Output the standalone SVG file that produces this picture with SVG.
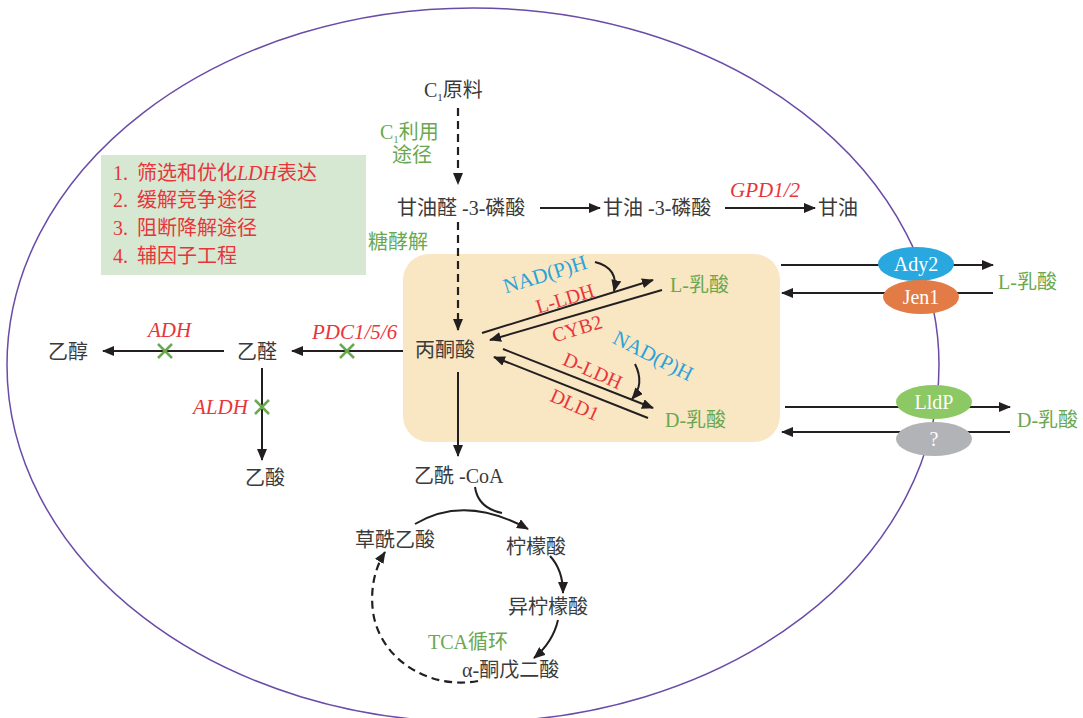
<svg xmlns="http://www.w3.org/2000/svg" width="1083" height="718" viewBox="0 0 1083 718">
<style>
text{font-family:"Liberation Serif","Noto Sans CJK SC",serif;font-size:20px;fill:#3a3a3a}
.g{fill:#6aa84f}
.r{fill:#e8353a;font-style:italic;font-size:21px}
.rn{fill:#e8353a;font-size:20px}
.b{fill:#2aa3d8;font-size:21px}
.lg{fill:#e8353a;font-size:20px}
.w{fill:#fff;font-size:20px}
.ln{stroke:#231f20;stroke-width:2;fill:none}
.ds{stroke:#231f20;stroke-width:2.2;fill:none;stroke-dasharray:8 5}
.x{stroke:#6ca851;stroke-width:2.5}
</style>
<defs>
<marker id="ah" markerWidth="12" markerHeight="10" refX="11" refY="5" orient="auto" markerUnits="userSpaceOnUse">
<path d="M0,0 L12,5 L0,10 z" fill="#231f20"/>
</marker>
</defs>
<g id="cell"><ellipse cx="473" cy="365" rx="466" ry="357" fill="none" stroke="#6a4ba8" stroke-width="1.5"/></g>
<g id="legend">
<rect x="101" y="155" width="265" height="120" fill="#d6e8d1"/>
<text class="lg" x="113" y="180">1. <tspan x="137">筛选和优化</tspan><tspan font-style="italic">LDH</tspan>表达</text>
<text class="lg" x="113" y="207">2. <tspan x="137">缓解竞争途径</tspan></text>
<text class="lg" x="113" y="235">3. <tspan x="137">阻断降解途径</tspan></text>
<text class="lg" x="113" y="263">4. <tspan x="137">辅因子工程</tspan></text>
</g>
<g id="box"><rect x="403" y="254" width="377" height="188" rx="26" fill="#f9e6c3"/></g>
<g id="c1"><text x="424" y="97">C<tspan font-size="11" dy="4">1</tspan><tspan dy="-4">原料</tspan></text></g>
<g id="c1path"><text class="g" x="380" y="139">C<tspan font-size="11" dy="4">1</tspan><tspan dy="-4">利用</tspan></text><text class="g" x="392" y="162">途径</text></g>
<g id="g3p"><text x="397" y="215">甘油醛 -3-磷酸</text></g>
<g id="gly3p"><text x="603" y="215">甘油 -3-磷酸</text></g>
<g id="glycerol"><text x="818" y="215">甘油</text></g>
<g id="glycolysis"><text class="g" x="368" y="249">糖酵解</text></g>
<g id="pyruvate"><text x="415" y="357">丙酮酸</text></g>
<g id="llac"><text class="g" x="670" y="292">L-乳酸</text></g>
<g id="dlac"><text class="g" x="665" y="427">D-乳酸</text></g>
<g id="ethanol"><text x="48" y="359">乙醇</text></g>
<g id="acetaldehyde"><text x="237" y="359">乙醛</text></g>
<g id="acetate"><text x="245" y="485">乙酸</text></g>
<g id="acetylcoa"><text x="414" y="483">乙酰 -CoA</text></g>
<g id="oaa"><text x="355" y="547">草酰乙酸</text></g>
<g id="citrate"><text x="506" y="554">柠檬酸</text></g>
<g id="isocitrate"><text x="508" y="614">异柠檬酸</text></g>
<g id="akg"><text x="462" y="677">α-酮戊二酸</text></g>
<g id="tca"><text class="g" x="428" y="649">TCA循环</text></g>
<g id="llac-out"><text class="g" x="998" y="289">L-乳酸</text></g>
<g id="dlac-out"><text class="g" x="1017" y="427">D-乳酸</text></g>
<g id="labels">
<text class="r" x="730" y="197">GPD1/2</text>
<text class="r" x="148" y="337">ADH</text>
<text class="r" x="312" y="339">PDC1/5/6</text>
<text class="r" x="193" y="414">ALDH</text>
<text class="b" transform="translate(547,281) rotate(-17)" text-anchor="middle">NAD(P)H</text>
<text class="rn" transform="translate(567,305) rotate(-17)" text-anchor="middle">L-LDH</text>
<text class="rn" transform="translate(579,335) rotate(-17)" text-anchor="middle">CYB2</text>
<text class="b" transform="translate(650,362) rotate(27)" text-anchor="middle">NAD(P)H</text>
<text class="rn" transform="translate(590,377) rotate(24)" text-anchor="middle">D-LDH</text>
<text class="rn" transform="translate(572,411) rotate(24)" text-anchor="middle">DLD1</text>
</g>
<g id="connectors">
<path class="ds" d="M458,108 V184" marker-end="url(#ah)"/>
<path class="ds" d="M458,222 V330" marker-end="url(#ah)"/>
<path class="ln" d="M540,208 H600" marker-end="url(#ah)"/>
<path class="ln" d="M725,208 H815" marker-end="url(#ah)"/>
<path class="ln" d="M482,333 L653,280" marker-end="url(#ah)"/>
<path class="ln" d="M662,290 L490,340" marker-end="url(#ah)"/>
<path class="ln" d="M503,349 L653,408" marker-end="url(#ah)"/>
<path class="ln" d="M648,418 L494,357" marker-end="url(#ah)"/>
<path class="ln" d="M595,262 Q619,268 614,291" marker-end="url(#ah)"/>
<path class="ln" d="M635,364 Q645,384 632,399" marker-end="url(#ah)"/>
<path class="ln" d="M403,351 H292" marker-end="url(#ah)"/>
<path class="ln" d="M224,351 H103" marker-end="url(#ah)"/>
<path class="ln" d="M262,368 V460" marker-end="url(#ah)"/>
<path class="ln" d="M458,372 V456" marker-end="url(#ah)"/>
<path class="ln" d="M415,524 Q465,494 528,529" marker-end="url(#ah)"/>
<path class="ln" d="M475,487 Q478,508 502,513"/>
<path class="ln" d="M550,556 Q563,570 563,593" marker-end="url(#ah)"/>
<path class="ln" d="M558,620 Q553,642 534,658" marker-end="url(#ah)"/>
<path class="ds" d="M478,681 C430,690 380,660 373,612 C370,588 375,568 385,552" marker-end="url(#ah)"/>
<path class="ln" d="M781,265 H993" marker-end="url(#ah)"/>
<path class="ln" d="M993,293 H782" marker-end="url(#ah)"/>
<path class="ln" d="M785,407 H1010" marker-end="url(#ah)"/>
<path class="ln" d="M1010,432 H782" marker-end="url(#ah)"/>
</g>
<g id="ady2"><ellipse cx="916" cy="264" rx="38" ry="17" fill="#29a8e0"/><text class="w" x="916" y="271" text-anchor="middle">Ady2</text></g>
<g id="jen1"><ellipse cx="921" cy="297" rx="38" ry="17" fill="#e27b45"/><text class="w" x="921" y="304" text-anchor="middle">Jen1</text></g>
<g id="lldp"><ellipse cx="934" cy="402" rx="38" ry="17" fill="#8cc864"/><text class="w" x="934" y="409" text-anchor="middle">LldP</text></g>
<g id="unknown"><ellipse cx="934" cy="439" rx="38" ry="17" fill="#b2b3b6"/><text class="w" x="934" y="446" text-anchor="middle">?</text></g>
<g id="blocks">
<path class="x" d="M158,344 L172,358 M172,344 L158,358"/>
<path class="x" d="M340,344 L354,358 M354,344 L340,358"/>
<path class="x" d="M255,400 L269,414 M269,400 L255,414"/>
</g>
</svg>
